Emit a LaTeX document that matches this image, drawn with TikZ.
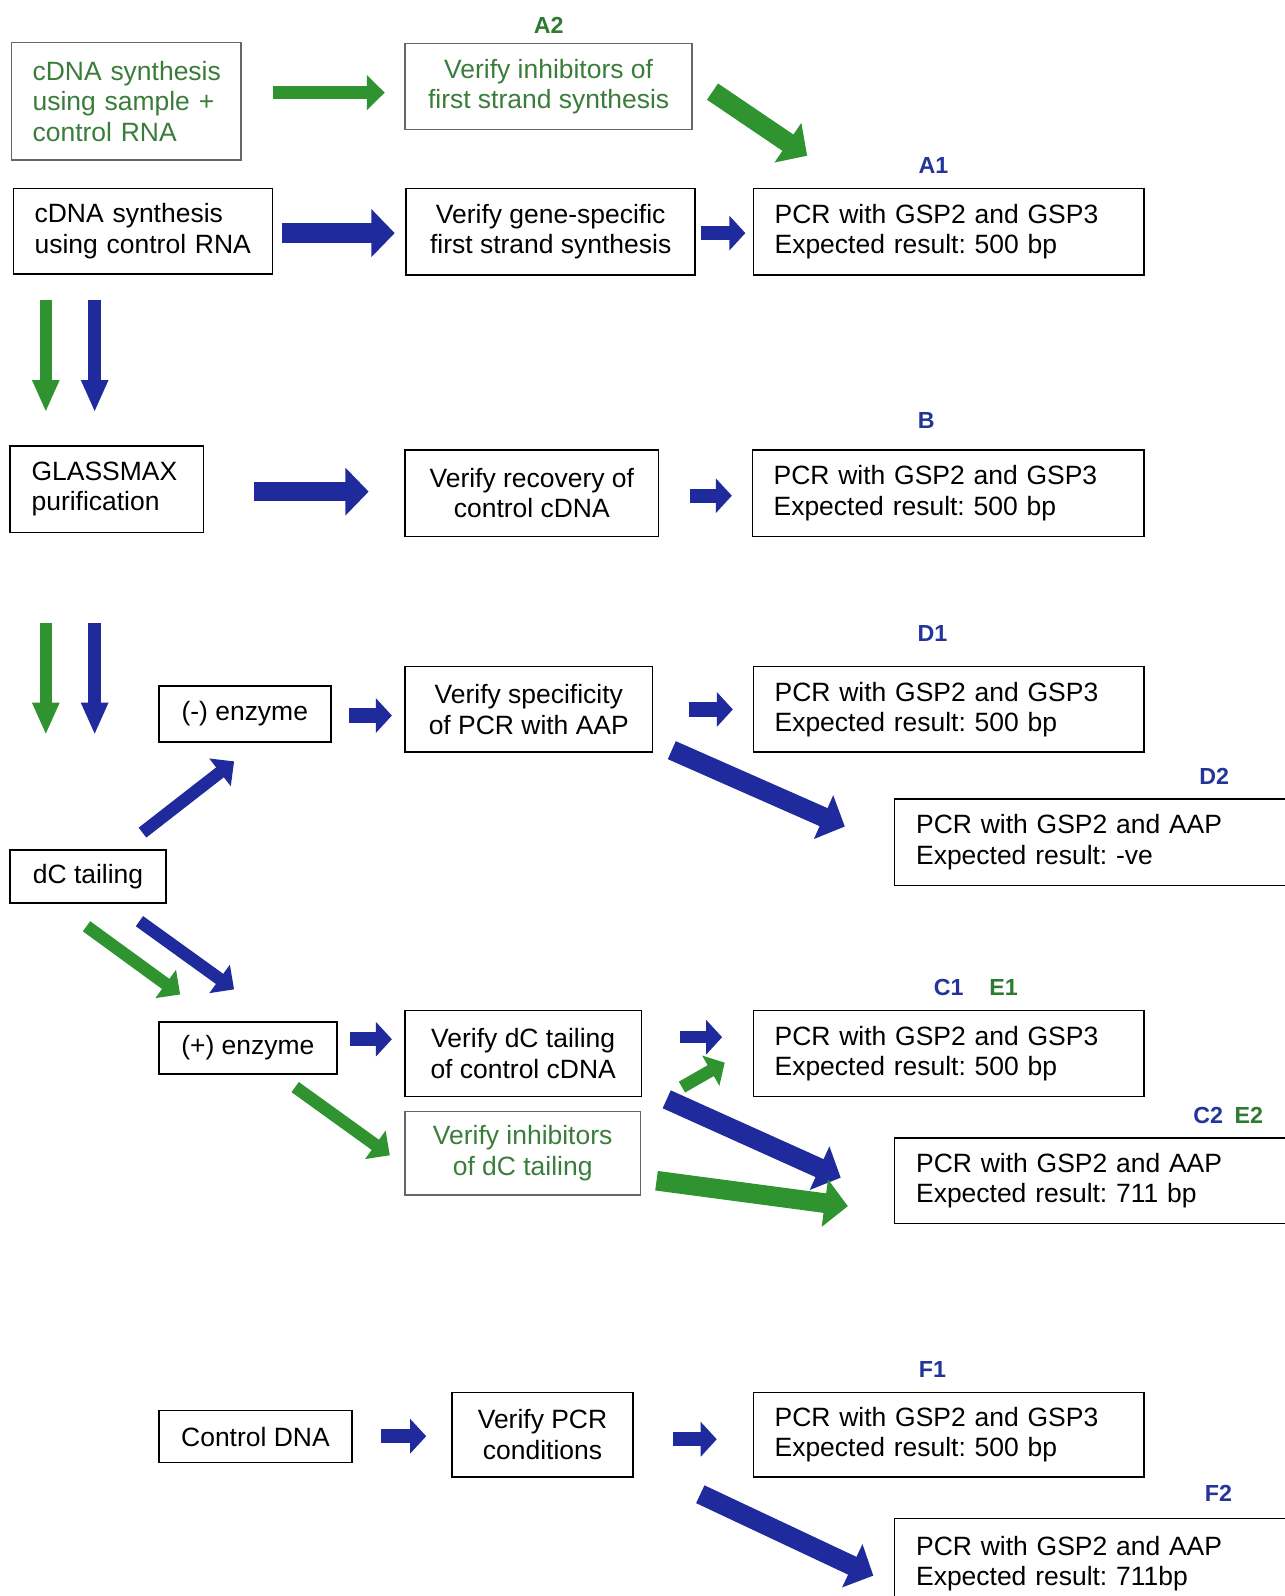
\documentclass[tikz,border=0pt]{standalone}
\usepackage{fontspec}
\setmainfont{Liberation Sans}
\usetikzlibrary{arrows.meta}
\definecolor{arblue}{HTML}{1F2B9C}
\definecolor{argreen}{HTML}{2F9430}
\definecolor{txgreen}{HTML}{3A7D3A}
\definecolor{lbblue}{HTML}{23359A}
\definecolor{lbgreen}{HTML}{2E7A30}
\frenchspacing
\hyphenpenalty=10000
\exhyphenpenalty=10000
\begin{document}
\begin{tikzpicture}[x=0.02cm,y=-0.02cm,
	    box/.style={draw,line width=0.8pt,inner xsep=0.42cm,inner ysep=0pt,font=\fontsize{14.8}{17}\selectfont,align=center},
	    lbox/.style={box,text width=#1,align=left},
	    gbox/.style={box,draw=black!60,text=txgreen},
	    lab/.style={font=\bfseries\fontsize{13}{15}\selectfont},
	    small/.style={line width=8pt,-{Triangle[length=9pt,width=19pt]}},
	    fat/.style={line width=7pt,-{Triangle[length=10pt,width=19pt]}},
	    big/.style={line width=11pt,-{Triangle[length=13pt,width=26pt]}},
	    down/.style={line width=7pt,-{Triangle[length=18pt,width=14pt]}}]
	    \useasboundingbox(0,0)rectangle(1262,1568);
	    \node[lbox=3.68cm,draw=black!60,text=txgreen,minimum height=2.3cm](cdnaS)at(124,99.5){\mbox{cDNA synthesis}\\using~sample~+\\control~RNA};
	    \node[gbox,minimum width=5.64cm,minimum height=1.68cm](inhibA)at(539,85){Verify inhibitors of\\first strand synthesis};
	    \node[lbox=4.26cm,minimum height=1.68cm](cdnaC)at(140.5,227){cDNA~synthesis\\\mbox{using control RNA}};
	    \node[box,minimum width=5.68cm,minimum height=1.7cm](gsfs)at(541,227.5){Verify gene-specific\\first strand synthesis};
	    \node[lbox=6.84cm,minimum height=1.7cm](pcrA)at(932,227.5){PCR with GSP2 and GSP3\\Expected result: 500 bp};
	    \node[lbox=2.96cm,minimum height=1.7cm](glass)at(105,480.5){GLASSMAX\\purification};
	    \node[box,minimum width=4.98cm,minimum height=1.7cm](recov)at(522.5,484.5){Verify recovery of\\control cDNA};
	    \node[lbox=6.86cm,minimum height=1.7cm](pcrB)at(931.5,484.5){PCR with GSP2 and GSP3\\Expected result: 500 bp};
	    \node[box,minimum width=3.38cm,minimum height=1.1cm](minus)at(240.5,701.5){(-) enzyme};
	    \node[box,minimum width=4.86cm,minimum height=1.68cm](spec)at(519.5,697){Verify specificity\\of PCR with AAP};
	    \node[lbox=6.84cm,minimum height=1.68cm](pcrDa)at(932,697){PCR with GSP2 and GSP3\\Expected result: 500 bp};
	    \node[lbox=7.58cm,minimum height=1.7cm](pcrDb)at(1089.5,827.5){PCR with GSP2 and AAP\\Expected result: -ve};
	    \node[box,minimum width=3.06cm,minimum height=1.04cm](dct)at(86.5,861){dC tailing};
	    \node[box,minimum width=3.5cm,minimum height=1.02cm](plus)at(243.5,1029.5){(+) enzyme};
	    \node[box,minimum width=4.64cm,minimum height=1.68cm](tail)at(514,1035){Verify dC tailing\\of control cDNA};
	    \node[lbox=6.84cm,minimum height=1.68cm](pcrCa)at(932,1035){PCR with GSP2 and GSP3\\Expected result: 500 bp};
	    \node[gbox,minimum width=4.62cm,minimum height=1.64cm](inhibD)at(513.5,1133){Verify inhibitors\\of dC tailing};
	    \node[lbox=7.58cm,minimum height=1.68cm](pcrCb)at(1089.5,1160){PCR with GSP2 and AAP\\Expected result: 711 bp};
	    \node[box,minimum width=3.8cm,minimum height=1.02cm](ctrl)at(251,1411.5){Control DNA};
	    \node[box,minimum width=3.56cm,minimum height=1.66cm](cond)at(533,1409.5){Verify PCR\\conditions};
	    \node[lbox=6.84cm,minimum height=1.66cm](pcrFa)at(932,1409.5){PCR with GSP2 and GSP3\\Expected result: 500 bp};
	    \node[lbox=7.58cm,minimum height=1.76cm](pcrFb)at(1089.5,1536){PCR with GSP2 and AAP\\Expected result: 711bp};
	    \node[lab,text=lbgreen](labA2)at(539,25){A2};
	    \node[lab,text=lbblue](labA1)at(917,163){A1};
	    \node[lab,text=lbblue](labB)at(910,413){B};
	    \node[lab,text=lbblue](labD1)at(916,622){D1};
	    \node[lab,text=lbblue](labD2)at(1193,763){D2};
	    \node[lab,text=lbblue](labC1)at(932,970){C1};
	    \node[lab,text=lbgreen](labE1)at(986,970){E1};
	    \node[lab,text=lbblue](labC2)at(1187,1096){C2};
	    \node[lab,text=lbgreen](labE2)at(1227,1096){E2};
	    \node[lab,text=lbblue](labF1)at(916,1345){F1};
	    \node[lab,text=lbblue](labF2)at(1197,1467){F2};
	    \coordinate(gAs)at(700,90);\coordinate(gAe)at(793,153);
	    \coordinate(dA1)at(45,295);\coordinate(dA2)at(45,405);
	    \coordinate(dB1)at(93,295);\coordinate(dB2)at(93,405);
	    \coordinate(dC1)at(45,612);\coordinate(dC2)at(45,722);
	    \coordinate(dD1)at(93,612);\coordinate(dD2)at(93,722);
	    \coordinate(bDs)at(660,737);\coordinate(bDe)at(830,812);
	    \coordinate(bMs)at(140,818);\coordinate(bMe)at(230,748);
	    \coordinate(gPs)at(85,910);\coordinate(gPe)at(177,977);
	    \coordinate(bPs)at(137,905);\coordinate(bPe)at(230,972);
	    \coordinate(gEs)at(670,1068);\coordinate(gEe)at(712,1044);
	    \coordinate(gIs)at(290,1068);\coordinate(gIe)at(383,1135);
	    \coordinate(bCs)at(655,1080);\coordinate(bCe)at(826,1157);
	    \coordinate(gCs)at(645,1160);\coordinate(gCe)at(833,1185);
	    \coordinate(bFs)at(688,1468);\coordinate(bFe)at(858,1548);
	    \draw[fat,argreen,shorten <=17.5pt,shorten >=11pt](cdnaS.east|-0,91)--(inhibA.west|-0,91);
	    \draw[big,argreen](gAs)--(gAe);
	    \draw[big,arblue,shorten <=5pt,shorten >=6pt](cdnaC.east|-0,229)--(gsfs.west|-0,229);
	    \draw[small,arblue,shorten <=3pt,shorten >=4pt](gsfs.east|-0,229)--(pcrA.west|-0,229);
	    \draw[down,argreen](dA1)--(dA2);
	    \draw[down,arblue](dB1)--(dB2);
	    \draw[big,arblue,shorten <=28pt,shorten >=20pt](glass.east|-0,483)--(recov.west|-0,483);
	    \draw[small,arblue,shorten <=17pt,shorten >=11pt](recov.east|-0,487)--(pcrB.west|-0,487);
	    \draw[down,argreen](dC1)--(dC2);
	    \draw[down,arblue](dD1)--(dD2);
	    \draw[small,arblue,shorten <=10pt,shorten >=7pt](minus.east|-0,703)--(spec.west|-0,703);
	    \draw[small,arblue,shorten <=20pt,shorten >=11pt](spec.east|-0,697)--(pcrDa.west|-0,697);
	    \draw[big,arblue](bDs)--(bDe);
	    \draw[fat,arblue](bMs)--(bMe);
	    \draw[fat,argreen](gPs)--(gPe);
	    \draw[fat,arblue](bPs)--(bPe);
	    \draw[small,arblue,shorten <=7pt,shorten >=7pt](plus.east|-0,1021)--(tail.west|-0,1021);
	    \draw[small,arblue,shorten <=21pt,shorten >=17pt,line width=7pt](tail.east|-0,1019)--(pcrCa.west|-0,1019);
	    \draw[small,argreen,line width=7pt](gEs)--(gEe);
	    \draw[fat,argreen](gIs)--(gIe);
	    \draw[big,arblue](bCs)--(bCe);
	    \draw[big,argreen](gCs)--(gCe);
	    \draw[small,arblue,shorten <=16pt,shorten >=14pt](ctrl.east|-0,1411)--(cond.west|-0,1411);
	    \draw[small,arblue,shorten <=22pt,shorten >=20pt](cond.east|-0,1414)--(pcrFa.west|-0,1414);
	    \draw[big,arblue](bFs)--(bFe);
\end{tikzpicture}
\end{document}
